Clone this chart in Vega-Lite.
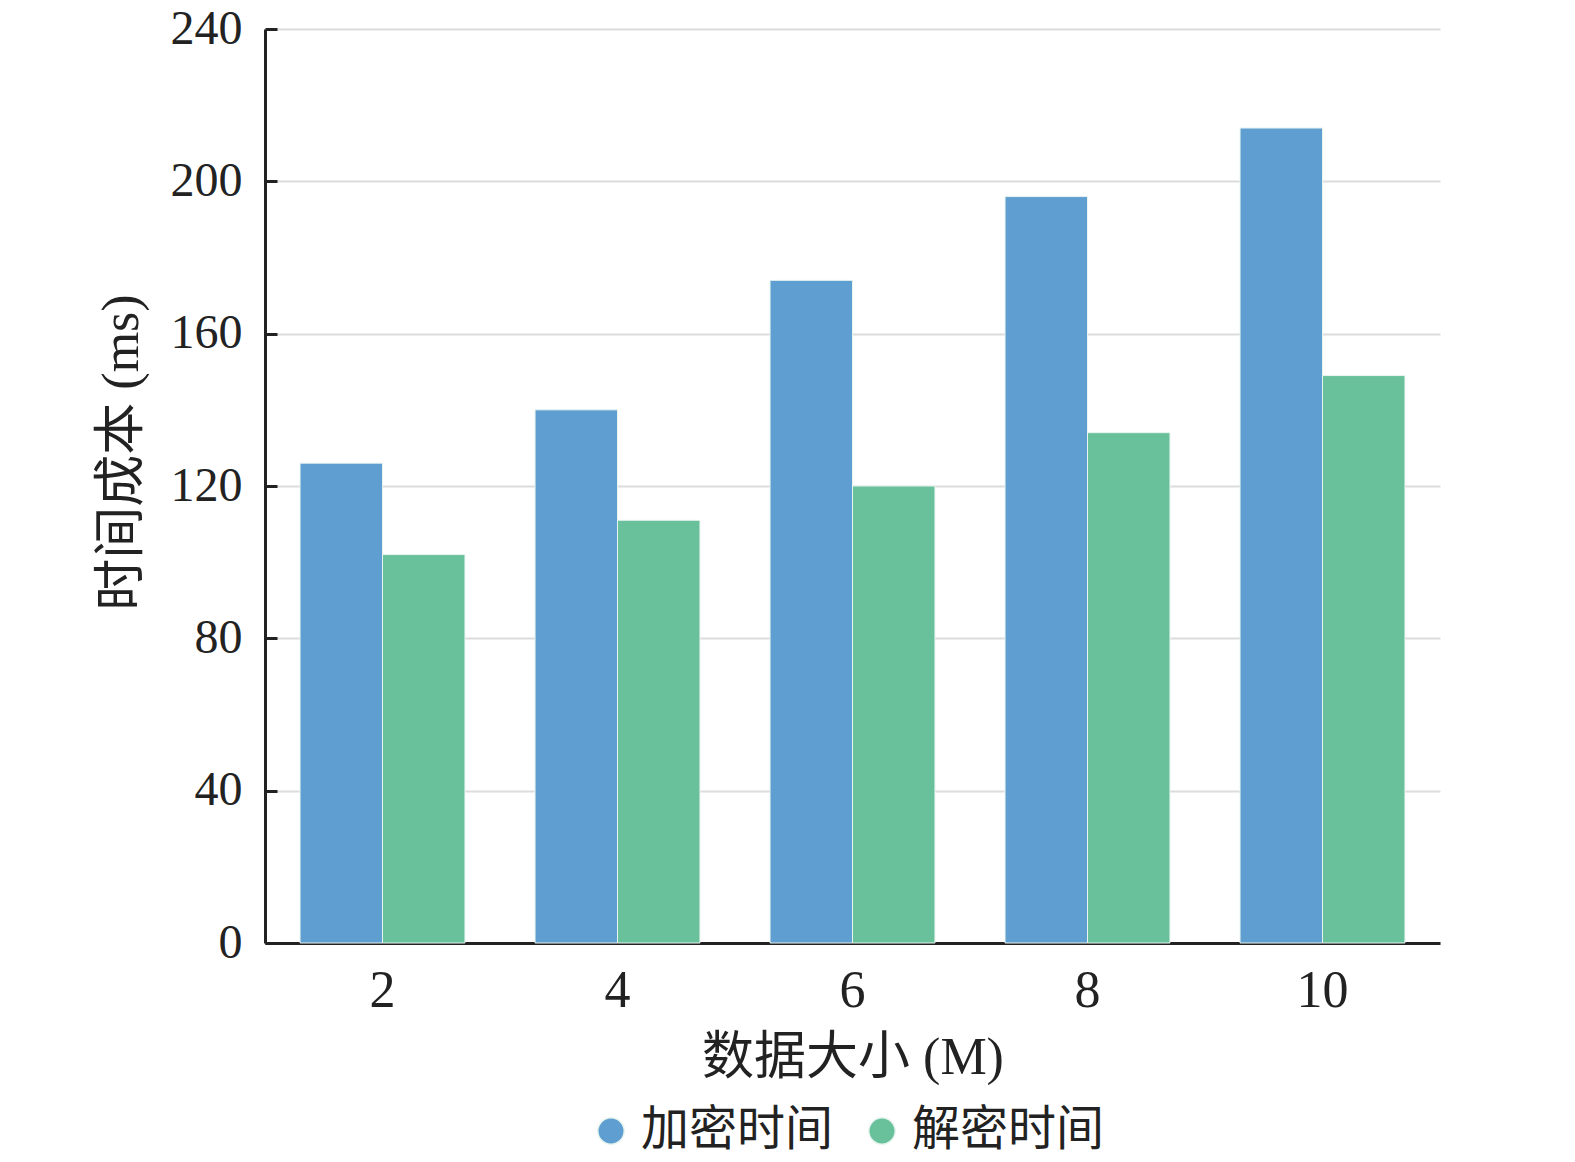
{
  "$schema": "https://vega.github.io/schema/vega-lite/v6.json",
  "autosize": "none",
  "width": 1175,
  "height": 914,
  "padding": {"left": 265, "top": 29, "right": 135, "bottom": 219},
  "background": "white",
  "config": {
    "font": "Liberation Serif, Noto Sans CJK SC",
    "view": {"stroke": null}
  },
  "data": {
    "values": [
      {"size": "2", "type": "加密时间", "time": 126},
      {"size": "2", "type": "解密时间", "time": 102},
      {"size": "4", "type": "加密时间", "time": 140},
      {"size": "4", "type": "解密时间", "time": 111},
      {"size": "6", "type": "加密时间", "time": 174},
      {"size": "6", "type": "解密时间", "time": 120},
      {"size": "8", "type": "加密时间", "time": 196},
      {"size": "8", "type": "解密时间", "time": 134},
      {"size": "10", "type": "加密时间", "time": 214},
      {"size": "10", "type": "解密时间", "time": 149}
    ]
  },
  "mark": {"type": "bar", "stroke": "#e8f4f0", "strokeWidth": 1},
  "encoding": {
    "x": {
      "field": "size",
      "type": "ordinal",
      "sort": ["2", "4", "6", "8", "10"],
      "scale": {"paddingInner": 0, "paddingOuter": 0},
      "axis": {
        "title": "数据大小 (M)",
        "titleFontSize": 52,
        "titleFontWeight": "normal",
        "titleColor": "#222",
        "titlePadding": 16,
        "labelAngle": 0,
        "labelFontSize": 52,
        "labelColor": "#222",
        "labelPadding": 22,
        "ticks": false,
        "domainColor": "#222",
        "domainWidth": 3,
        "grid": false
      }
    },
    "xOffset": {
      "field": "type",
      "type": "nominal",
      "sort": ["加密时间", "解密时间"],
      "scale": {"paddingInner": 0, "paddingOuter": 0.425}
    },
    "y": {
      "field": "time",
      "type": "quantitative",
      "scale": {"domain": [0, 240], "nice": false},
      "axis": {
        "title": "时间成本 (ms)",
        "titleFontSize": 52,
        "titleFontWeight": "normal",
        "titleColor": "#222",
        "titlePadding": 22,
        "titleY": 423,
        "values": [0, 40, 80, 120, 160, 200, 240],
        "labelFontSize": 48,
        "labelColor": "#222",
        "labelPadding": 35,
        "tickSize": -12,
        "tickWidth": 3,
        "tickColor": "#222",
        "domainColor": "#222",
        "domainWidth": 3,
        "gridColor": "#dcdcdc",
        "gridWidth": 2
      }
    },
    "color": {
      "field": "type",
      "type": "nominal",
      "sort": ["加密时间", "解密时间"],
      "scale": {"domain": ["加密时间", "解密时间"], "range": ["#5f9ed1", "#69c19b"]},
      "legend": {
        "title": null,
        "orient": "none",
        "direction": "horizontal",
        "legendX": 322,
        "legendY": 1078,
        "symbolType": "circle",
        "symbolSize": 700,
        "labelFontSize": 48,
        "labelLimit": 0,
        "labelColor": "#222",
        "labelOffset": 6,
        "columnPadding": 24
      }
    }
  }
}
